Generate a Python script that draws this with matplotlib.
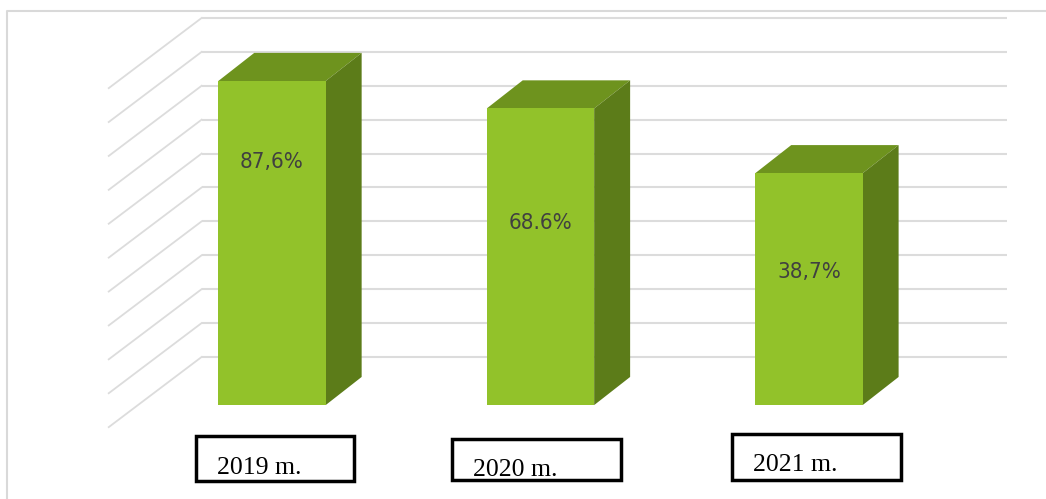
import numpy as np
import matplotlib
matplotlib.use('Agg')
import matplotlib.pyplot as plt
from matplotlib.patches import Polygon, Rectangle

# данные
years = ['2019 m.', '2020 m.', '2021 m.']
values = [95.6, 87.5, 68.4]          # высота столбцов (по сетке 0..100)
value_labels = ['87,6%', '68.6%', '38,7%']
grid_values = np.arange(0, 101, 10)

# оформление
label_pos = [0.75, 0.614, 0.573]     # где стоит подпись внутри столбца
front_color = '#92C22A'
top_color = '#6E931E'
side_color = '#5C7C19'
grid_color = '#DCDCDC'

# рамки под годами (смещение от центра столбца, ширина, низ, верх)
box_left = [-0.283, -0.328, -0.287]
box_width = [0.588, 0.629, 0.629]
box_bottom = [-22.4, -22.1, -22.1]
box_top = [-9.1, -10.0, -8.6]
text_base = [-20.4, -20.9, -19.5]

bar_w = 0.40
bar_dx, bar_dy = 0.134, 8.3          # глубина столбца
wall_dx, wall_dy = 0.238, 14.2       # задняя стенка
floor_dx, floor_dy = -0.108, -6.5    # передний край боковой стенки

fig = plt.figure(figsize=(10.46, 4.99), dpi=100)
ax = fig.add_axes([0, 0, 1, 1])
ax.set_xlim(-1.013, 2.883)
ax.set_ylim(-27.7, 119.5)
ax.axis('off')

x = np.arange(len(years))

# 1. Сетка на задней и боковой стенке
for v in grid_values:
    ax.plot([-0.5 + wall_dx, 2.5 + wall_dx], [v + wall_dy, v + wall_dy],
            color=grid_color, lw=1.5, zorder=1, solid_capstyle='butt')
    ax.plot([-0.5 + floor_dx, -0.5 + wall_dx], [v + floor_dy, v + wall_dy],
            color=grid_color, lw=1.3, zorder=1)

# 2. Столбцы (передняя грань + верх + бок)
ax.bar(x, values, width=bar_w, color=front_color, zorder=3)
for xi, h in zip(x, values):
    l, r = xi - bar_w / 2, xi + bar_w / 2
    top = Polygon([(l, h), (r, h), (r + bar_dx, h + bar_dy), (l + bar_dx, h + bar_dy)],
                  closed=True, facecolor=top_color, edgecolor='none', zorder=2)
    side = Polygon([(r, 0), (r + bar_dx, bar_dy), (r + bar_dx, h + bar_dy), (r, h)],
                   closed=True, facecolor=side_color, edgecolor='none', zorder=2)
    ax.add_patch(top)
    ax.add_patch(side)

# 3. Подписи значений
for xi, h, lab, p in zip(x, values, value_labels, label_pos):
    ax.text(xi, h * p, lab, ha='center', va='center', fontsize=16,
            fontfamily='DejaVu Sans', fontstretch='condensed', color='#404040', zorder=4)

# 4. Подписи годов в рамках
for i, (xi, lab) in enumerate(zip(x, years)):
    left = xi + box_left[i]
    ax.add_patch(Rectangle((left, box_bottom[i]), box_width[i], box_top[i] - box_bottom[i],
                           facecolor='white', edgecolor='black', lw=2.5, zorder=4))
    ax.text(left + 0.078, text_base[i], lab, ha='left', va='baseline', fontsize=18.5,
            fontfamily='Liberation Serif', color='black', zorder=5)

# 5. Рамка
ax.plot([0.0067, 0.0067, 1], [0, 0.978, 0.978], transform=ax.transAxes,
        color='#D9D9D9', lw=1.5, clip_on=False)

plt.savefig('out.png', dpi=100)
